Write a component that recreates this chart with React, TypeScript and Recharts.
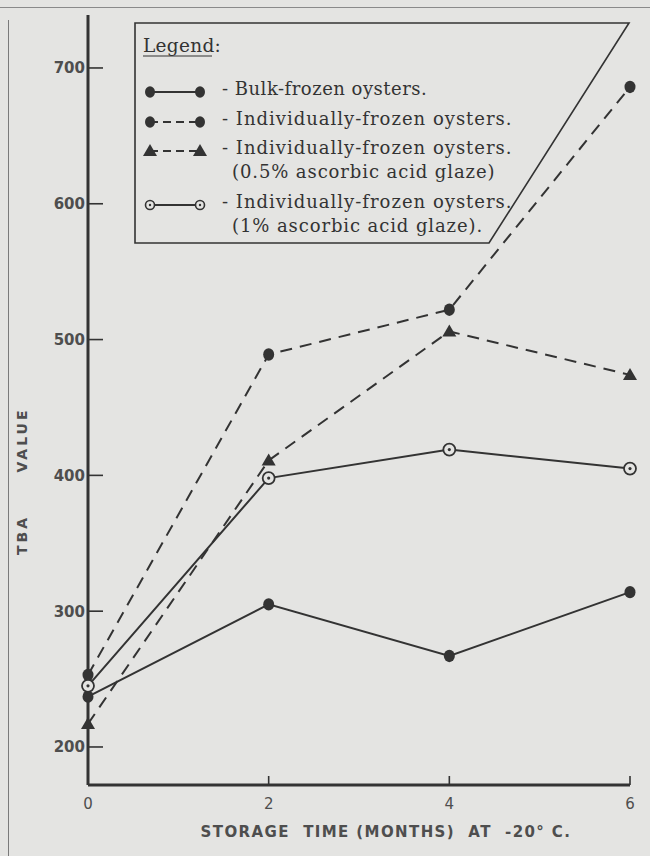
import React from 'react';
import { LineChart, Line, XAxis, YAxis, Legend } from 'recharts';

const months = [0, 2, 4, 6];
const bulkFrozen = [237, 305, 267, 314];
const individuallyFrozen = [253, 489, 522, 686];
const ascorbic05 = [217, 411, 506, 474];
const ascorbic1 = [245, 398, 419, 405];
const yTicks = [200, 300, 400, 500, 600, 700];
const xTicks = [0, 2, 4, 6];

const data = months.map((m, i) => ({
  month: m,
  bulk: bulkFrozen[i],
  indiv: individuallyFrozen[i],
  asc05: ascorbic05[i],
  asc1: ascorbic1[i],
}));

const INK = '#333333';
const BG = '#e4e4e2';
const LABEL = '#4e4e4e';
const SANS = '"DejaVu Sans", "Liberation Sans", sans-serif';
const SERIF = '"DejaVu Serif", "Liberation Serif", serif';

const FilledDot = (p: any) => {
  const { cx, cy } = p;
  if (cx == null || cy == null) return null;
  return <ellipse key={`f-${cx}-${cy}`} cx={cx} cy={cy} rx={5.5} ry={6.2} fill={INK} />;
};
const TriDot = (p: any) => {
  const { cx, cy } = p;
  if (cx == null || cy == null) return null;
  return (
    <polygon
      key={`t-${cx}-${cy}`}
      points={`${cx - 7},${cy + 5} ${cx + 7},${cy + 5} ${cx},${cy - 7}`}
      fill={INK}
    />
  );
};
const OpenDot = (p: any) => {
  const { cx, cy } = p;
  if (cx == null || cy == null) return null;
  return (
    <g key={`o-${cx}-${cy}`}>
      <circle cx={cx} cy={cy} r={6} fill={BG} stroke={INK} strokeWidth={1.8} />
      <circle cx={cx} cy={cy} r={1.6} fill={INK} />
    </g>
  );
};

const XTick = (p: any) => {
  const { x, y, payload } = p;
  return (
    <g>
      {payload.value !== 0 && (
        <line x1={x} y1={y} x2={x} y2={y - 9} stroke={INK} strokeWidth={1.6} />
      )}
      <text x={x} y={y + 24} textAnchor="middle" fill={LABEL} fontFamily={SANS} fontSize={15}>
        {payload.value}
      </text>
    </g>
  );
};

const YTick = (p: any) => {
  const { x, y, payload } = p;
  return (
    <g>
      <line x1={x} y1={y} x2={x + 15} y2={y} stroke={INK} strokeWidth={1.6} />
      <text
        x={x - 3}
        y={y + 5.5}
        textAnchor="end"
        fill={LABEL}
        fontFamily={SANS}
        fontWeight="bold"
        fontSize={15}
      >
        {payload.value}
      </text>
    </g>
  );
};

const XLabel = (p: any) => {
  const vb = p.viewBox || {};
  const cx = vb.x + vb.width / 2 + 27;
  return (
    <text
      x={cx}
      y={vb.y + vb.height - 19}
      textAnchor="middle"
      fill={LABEL}
      fontFamily={SANS}
      fontWeight="bold"
      fontSize={15}
      letterSpacing={1.4}
      style={{ whiteSpace: 'pre' }}
    >
      {'STORAGE\u00a0\u00a0TIME (MONTHS)\u00a0\u00a0AT\u00a0 -20° C.'}
    </text>
  );
};

const YLabel = (p: any) => {
  const vb = p.viewBox || {};
  const bx = vb.x + vb.width - 61;
  const mid = vb.y + vb.height / 2;
  return (
    <g fill={LABEL} fontFamily={SANS} fontWeight="bold" fontSize={14} letterSpacing={3}>
      <text x={bx} y={mid + 40} textAnchor="middle" transform={`rotate(-90 ${bx} ${mid + 40})`}>
        VALUE
      </text>
      <text x={bx} y={mid + 135} textAnchor="middle" transform={`rotate(-90 ${bx} ${mid + 135})`}>
        TBA
      </text>
    </g>
  );
};

const legendRows = [
  { kind: 'filled-solid', text: '- Bulk-frozen oysters.', y: 73, sub: '' },
  { kind: 'filled-dash', text: '- Individually-frozen oysters.', y: 103, sub: '' },
  { kind: 'tri-dash', text: '- Individually-frozen oysters.', y: 132, sub: '(0.5% ascorbic acid glaze)' },
  { kind: 'open-solid', text: '- Individually-frozen oysters.', y: 186, sub: '(1% ascorbic acid glaze).' },
];

const LegendBox = () => (
  <svg width={500} height={224} style={{ display: 'block' }}>
    <polygon points="2,1 496,1 356,221 2,221" fill="none" stroke={INK} strokeWidth={1.6} />
    <text x={10} y={30} fontFamily={SERIF} fontSize={18.5} fill="#333" letterSpacing={0.3}>
      Legend:
    </text>
    <line x1={10} y1={34} x2={79} y2={34} stroke="#333" strokeWidth={1.2} />
    {legendRows.map((r, i) => {
      const x1 = 17;
      const x2 = 67;
      const cy = r.y - 3;
      return (
        <g key={i}>
          {r.kind === 'filled-solid' && (
            <g>
              <line x1={x1} y1={cy} x2={x2} y2={cy} stroke={INK} strokeWidth={2} />
              <ellipse cx={x1} cy={cy} rx={5} ry={5.8} fill={INK} />
              <ellipse cx={x2} cy={cy} rx={5} ry={5.8} fill={INK} />
            </g>
          )}
          {r.kind === 'filled-dash' && (
            <g>
              <line x1={x1} y1={cy} x2={x2} y2={cy} stroke={INK} strokeWidth={2} strokeDasharray="8 5" />
              <ellipse cx={x1} cy={cy} rx={5} ry={5.8} fill={INK} />
              <ellipse cx={x2} cy={cy} rx={5} ry={5.8} fill={INK} />
            </g>
          )}
          {r.kind === 'tri-dash' && (
            <g>
              <line x1={x1} y1={cy} x2={x2} y2={cy} stroke={INK} strokeWidth={2} strokeDasharray="8 5" />
              <polygon points={`${x1 - 7},${cy + 5} ${x1 + 7},${cy + 5} ${x1},${cy - 7}`} fill={INK} />
              <polygon points={`${x2 - 7},${cy + 5} ${x2 + 7},${cy + 5} ${x2},${cy - 7}`} fill={INK} />
            </g>
          )}
          {r.kind === 'open-solid' && (
            <g>
              <line x1={x1} y1={cy} x2={x2} y2={cy} stroke={INK} strokeWidth={2} />
              <circle cx={x1} cy={cy} r={4.5} fill={BG} stroke={INK} strokeWidth={1.6} />
              <circle cx={x1} cy={cy} r={1.2} fill={INK} />
              <circle cx={x2} cy={cy} r={4.5} fill={BG} stroke={INK} strokeWidth={1.6} />
              <circle cx={x2} cy={cy} r={1.2} fill={INK} />
            </g>
          )}
          <text
            x={89}
            y={r.y}
            fontFamily={SERIF}
            fontSize={18}
            fill="#333"
            letterSpacing={r.kind === 'filled-solid' ? 0.5 : 1.0}
          >
            {r.text}
          </text>
          {r.sub && (
            <text x={99} y={r.y + 24} fontFamily={SERIF} fontSize={18} fill="#333" letterSpacing={0.9}>
              {r.sub}
            </text>
          )}
        </g>
      );
    })}
  </svg>
);

export default function App() {
  return (
    <div
      style={{
        position: 'absolute',
        left: 0,
        top: 0,
        width: 650,
        height: 856,
        background: BG,
        overflow: 'hidden',
      }}
    >
      <div style={{ position: 'absolute', left: 0, top: 7, width: 650, height: 1, background: '#8a8a8a' }} />
      <div style={{ position: 'absolute', left: 8, top: 20, width: 1, height: 836, background: '#7a7a7a' }} />
      <LineChart
        width={650}
        height={856}
        data={data}
        margin={{ top: 15, right: 20, bottom: 0, left: 0 }}
      >
        <XAxis
          dataKey="month"
          type="number"
          domain={[0, 6]}
          ticks={xTicks}
          axisLine={{ stroke: INK, strokeWidth: 3 }}
          tickLine={false}
          tickSize={0}
          tickMargin={0}
          height={71}
          tick={<XTick />}
          label={<XLabel />}
        />
        <YAxis
          type="number"
          domain={[172, 739]}
          ticks={yTicks}
          width={88}
          axisLine={{ stroke: INK, strokeWidth: 3 }}
          tickLine={false}
          tickSize={0}
          tickMargin={0}
          tick={<YTick />}
          label={<YLabel />}
        />
        <Legend
          layout="horizontal"
          verticalAlign="middle"
          align="center"
          wrapperStyle={{ top: 22, left: 133, width: 500, height: 224 }}
          content={() => <LegendBox />}
        />
        <Line dataKey="bulk" stroke={INK} strokeWidth={2} dot={<FilledDot />} isAnimationActive={false} />
        <Line
          dataKey="indiv"
          stroke={INK}
          strokeWidth={2}
          strokeDasharray="12 8"
          dot={<FilledDot />}
          isAnimationActive={false}
        />
        <Line
          dataKey="asc05"
          stroke={INK}
          strokeWidth={2}
          strokeDasharray="12 8"
          dot={<TriDot />}
          isAnimationActive={false}
        />
        <Line dataKey="asc1" stroke={INK} strokeWidth={2} dot={<OpenDot />} isAnimationActive={false} />
      </LineChart>
    </div>
  );
}
